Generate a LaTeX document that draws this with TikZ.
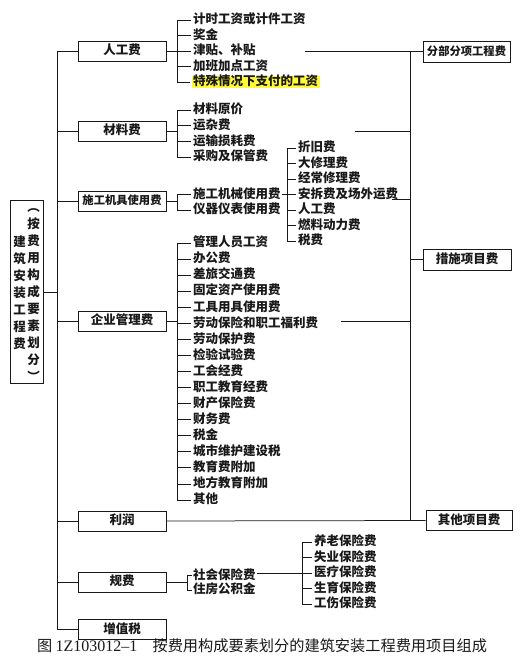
\documentclass[tikz,border=0pt]{standalone}
\usepackage{fontspec}
\setmainfont{Noto Sans CJK SC}
\newfontfamily\latinserif{Liberation Serif}
\definecolor{hl}{RGB}{255,250,60}
\definecolor{ink}{RGB}{25,25,25}
\begin{document}
\begin{tikzpicture}[x=1pt,y=-1pt,
  every node/.style={font=\bfseries\fontsize{12.5}{13}\selectfont, text height=0.88em, text depth=0.12em, text=ink},
  catbox/.style={draw=ink, line width=0.9pt, minimum width=88pt, minimum height=20pt, inner sep=0pt},
  item/.style={anchor=west, inner sep=1pt},
  ln/.style={line width=0.75pt, draw=ink},
  tick/.style={ln, shorten >=1.5pt},
]
\useasboundingbox (0,0) rectangle (523,665);
\fill[white] (0,0) rectangle (523,665);

% main box
\node[draw=ink, line width=0.9pt, minimum width=33pt, minimum height=183pt, inner sep=0pt] (mb) at (26.5,292) {};
\foreach [count=\i] \c in {︵,按,费,用,构,成,要,素,划,分,︶}
  \node[inner sep=0pt] (mr\i) at (33.5,{208+17*(\i-1)}) {\c};
\foreach [count=\i] \c in {建,筑,安,装,工,程,费}
  \node[inner sep=0pt] (ml\i) at (19.5,{243+17*(\i-1)}) {\c};

% category boxes
\node[catbox] (rg) at (122,51) {人工费};
\node[catbox] (cl) at (122,131) {材料费};
\node[catbox, font=\bfseries\fontsize{11.3}{12}\selectfont] (jj) at (122,201) {施工机具使用费};
\node[catbox] (qy) at (122,321) {企业管理费};
\node[catbox] (lr) at (122,521) {利润};
\node[catbox] (gf) at (122,582) {规费};
\node[catbox] (zz) at (122,629.5) {增值税};

% right boxes
\node[catbox, minimum width=87pt, minimum height=21pt, font=\bfseries\fontsize{11.3}{12}\selectfont] (fb) at (466.5,51.5) {分部分项工程费};
\node[catbox, minimum width=88pt, minimum height=21pt] (cs) at (467,259.5) {措施项目费};
\node[catbox, minimum width=86pt, minimum height=20pt] (qt) at (469,520.5) {其他项目费};

% left trunk
\coordinate (LT) at (57,0);
\draw[ln] (rg.west) -- (rg.west -| LT) -- (zz.west -| LT) -- (zz.west);
\foreach \b in {cl,jj,qy,lr,gf} \draw[ln] (\b.west -| LT) -- (\b.west);
\draw[ln] (mb.east) -- (mb.east -| LT);

% right trunk
\coordinate (RT) at (410,0);
\draw[ln] (fb.west -| RT) -- (qt.west -| RT);
\coordinate (r1) at (305,51.5);
\coordinate (r2) at (355,131);
\coordinate (r3) at (392,199);
\coordinate (r4) at (341,321);
\draw[ln] (r1) -- (fb.west);
\draw[ln] (r2) -- (r2 -| RT);
\draw[ln] (r3) -- (r3 -| RT);
\draw[ln] (r4) -- (r4 -| RT);
\draw[ln] (cs.west -| RT) -- (cs.west);
\draw[ln] (lr.east) -- (qt.west);

% A: 人工费
\coordinate (bA) at (177,0);
\foreach [count=\i] \t in {计时工资或计件工资,奖金,津贴、补贴,加班加点工资}
  \node[item] (A\i) at (192,{20+15.5*(\i-1)}) {\t};
\node[item, fill=hl, inner xsep=1.5pt] (A5) at (191.5,82) {特殊情况下支付的工资};
\draw[ln] (A1.west -| bA) -- (A5.west -| bA);
\foreach \i in {1,...,5} \draw[tick] (A\i.west -| bA) -- (A\i.west);
\draw[ln] (rg.east) -- (rg.east -| bA);

% B: 材料费
\foreach [count=\i] \t in {材料原价,运杂费,运输损耗费,采购及保管费}
  \node[item] (B\i) at (192,{110+15.67*(\i-1)}) {\t};
\draw[ln] (B1.west -| bA) -- (B4.west -| bA);
\foreach \i in {1,...,4} \draw[tick] (B\i.west -| bA) -- (B\i.west);
\draw[ln] (cl.east) -- (cl.east -| bA);

% C: 施工机具使用费
\node[item] (C1) at (192,194.5) {施工机械使用费};
\node[item] (C2) at (192,210) {仪器仪表使用费};
\draw[ln] (C1.west -| bA) -- (C2.west -| bA);
\foreach \i in {1,2} \draw[tick] (C\i.west -| bA) -- (C\i.west);
\draw[ln] (jj.east) -- (jj.east -| bA);

% D: sub list
\coordinate (bD) at (287,0);
\foreach [count=\i] \t in {折旧费,大修理费,经常修理费,安拆费及场外运费,人工费,燃料动力费,税费}
  \node[item] (D\i) at (297,{148+15.5*(\i-1)}) {\t};
\draw[ln] (D1.west -| bD) -- (D7.west -| bD);
\foreach \i in {1,...,7} \draw[tick] (D\i.west -| bD) -- (D\i.west);
\draw[ln] (C1.east) -- (C1.east -| bD);

% E: 企业管理费
\foreach [count=\i] \t in {管理人员工资,办公费,差旅交通费,固定资产使用费,工具用具使用费,劳动保险和职工福利费,劳动保护费,检验试验费,工会经费,职工教育经费,财产保险费,财务费,税金,城市维护建设税,教育费附加,地方教育附加,其他}
  \node[item] (E\i) at (192,{243+16.06*(\i-1)}) {\t};
\draw[ln] (E1.west -| bA) -- (E17.west -| bA);
\foreach \i in {1,...,17} \draw[tick] (E\i.west -| bA) -- (E\i.west);
\draw[ln] (qy.east) -- (qy.east -| bA);

% F: 规费
\coordinate (bF) at (187,0);
\node[item] (F1) at (192,575.5) {社会保险费};
\node[item] (F2) at (192,590) {住房公积金};
\draw[ln] (F1.west -| bF) -- (F2.west -| bF);
\foreach \i in {1,2} \draw[ln] (F\i.west -| bF) -- (F\i.west);
\draw[ln] (gf.east) -- (gf.east -| bF);

% G: 社会保险费
\coordinate (bG) at (302,0);
\foreach [count=\i] \t in {养老保险费,失业保险费,医疗保险费,生育保险费,工伤保险费}
  \node[item] (G\i) at (313,{542+15.5*(\i-1)}) {\t};
\draw[ln] (G1.west -| bG) -- (G5.west -| bG);
\foreach \i in {1,...,5} \draw[tick] (G\i.west -| bG) -- (G\i.west);
\draw[ln] (F1.east |- G3.west) -- (G3.west -| bG);

% caption
\node[font=\mdseries\fontsize{15.2}{16}\selectfont] (cap) at (262,648)
  {图 {\latinserif\fontsize{16}{16}\selectfont 1Z103012–1}\hspace{1em}按费用构成要素划分的建筑安装工程费用项目组成};
\end{tikzpicture}
\end{document}
